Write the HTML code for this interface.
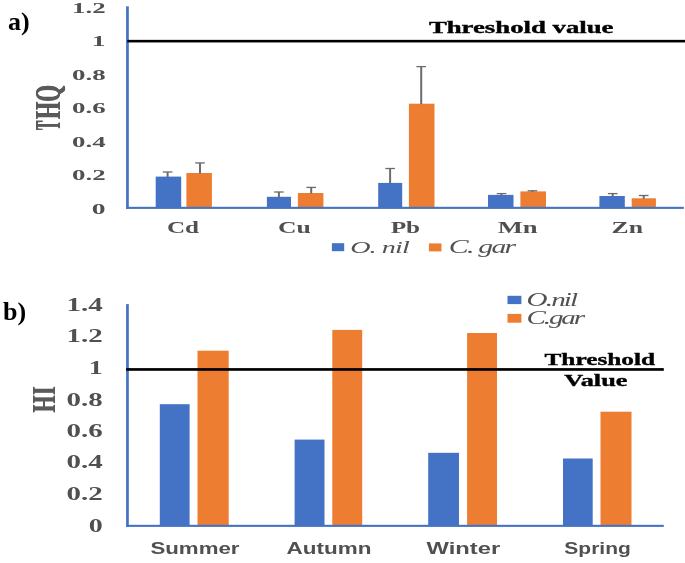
<!DOCTYPE html>
<html><head><meta charset="utf-8"><title>THQ and HI charts</title>
<style>
html,body{margin:0;padding:0;background:#fff;}
body{width:685px;height:563px;overflow:hidden;font-family:"Liberation Serif",serif;}
svg{display:block;}
</style></head>
<body>
<svg width="685" height="563" viewBox="0 0 685 563">
<rect x="0" y="0" width="685" height="563" fill="#ffffff"/>
<g style="filter:blur(0.55px)">
<rect x="155.70" y="176.60" width="25.50" height="31.25" fill="#4472C4"/>
<rect x="186.40" y="173.00" width="25.50" height="34.85" fill="#ED7D31"/>
<rect x="166.60" y="172.00" width="2.0" height="5.10" fill="#6c6c6c"/>
<rect x="162.80" y="171.35" width="9.60" height="1.3" fill="#6c6c6c"/>
<rect x="199.00" y="162.90" width="2.0" height="10.60" fill="#6c6c6c"/>
<rect x="195.20" y="162.25" width="9.60" height="1.3" fill="#6c6c6c"/>
<rect x="266.90" y="196.80" width="24.10" height="11.05" fill="#4472C4"/>
<rect x="297.90" y="193.00" width="25.50" height="14.85" fill="#ED7D31"/>
<rect x="277.90" y="192.00" width="2.0" height="5.30" fill="#6c6c6c"/>
<rect x="274.10" y="191.35" width="9.60" height="1.3" fill="#6c6c6c"/>
<rect x="310.20" y="187.40" width="2.0" height="6.10" fill="#6c6c6c"/>
<rect x="306.40" y="186.75" width="9.60" height="1.3" fill="#6c6c6c"/>
<rect x="378.20" y="182.90" width="24.00" height="24.95" fill="#4472C4"/>
<rect x="408.90" y="103.70" width="25.60" height="104.15" fill="#ED7D31"/>
<rect x="389.10" y="168.50" width="2.0" height="14.90" fill="#6c6c6c"/>
<rect x="385.30" y="167.85" width="9.60" height="1.3" fill="#6c6c6c"/>
<rect x="420.20" y="66.60" width="2.0" height="37.60" fill="#6c6c6c"/>
<rect x="416.40" y="65.95" width="9.60" height="1.3" fill="#6c6c6c"/>
<rect x="488.00" y="194.90" width="25.50" height="12.95" fill="#4472C4"/>
<rect x="520.40" y="191.40" width="25.60" height="16.45" fill="#ED7D31"/>
<rect x="500.50" y="193.60" width="2.0" height="1.80" fill="#6c6c6c"/>
<rect x="496.70" y="192.95" width="9.60" height="1.3" fill="#6c6c6c"/>
<rect x="531.40" y="190.80" width="2.0" height="1.10" fill="#6c6c6c"/>
<rect x="527.60" y="190.15" width="9.60" height="1.3" fill="#6c6c6c"/>
<rect x="599.40" y="196.00" width="25.40" height="11.85" fill="#4472C4"/>
<rect x="631.70" y="198.30" width="24.20" height="9.55" fill="#ED7D31"/>
<rect x="611.70" y="193.60" width="2.0" height="2.90" fill="#6c6c6c"/>
<rect x="607.90" y="192.95" width="9.60" height="1.3" fill="#6c6c6c"/>
<rect x="642.70" y="195.50" width="2.0" height="3.30" fill="#6c6c6c"/>
<rect x="638.90" y="194.85" width="9.60" height="1.3" fill="#6c6c6c"/>
<rect x="126.10" y="6.30" width="2.70" height="202.60" fill="#4472C4"/>
<rect x="126.10" y="206.80" width="557.70" height="2.10" fill="#4472C4"/>
<rect x="127.30" y="39.85" width="564.70" height="2.60" fill="#000"/>
<text x="72.00" y="12.60" font-family="Liberation Serif" font-size="15.3" font-weight="bold" font-style="normal" fill="#505050" text-anchor="start" textLength="33.60" lengthAdjust="spacingAndGlyphs">1.2</text>
<text x="91.80" y="45.60" font-family="Liberation Serif" font-size="15.3" font-weight="bold" font-style="normal" fill="#505050" text-anchor="start" textLength="13.80" lengthAdjust="spacingAndGlyphs">1</text>
<text x="72.00" y="79.50" font-family="Liberation Serif" font-size="15.3" font-weight="bold" font-style="normal" fill="#505050" text-anchor="start" textLength="33.60" lengthAdjust="spacingAndGlyphs">0.8</text>
<text x="72.00" y="112.90" font-family="Liberation Serif" font-size="15.3" font-weight="bold" font-style="normal" fill="#505050" text-anchor="start" textLength="33.60" lengthAdjust="spacingAndGlyphs">0.6</text>
<text x="72.00" y="146.90" font-family="Liberation Serif" font-size="15.3" font-weight="bold" font-style="normal" fill="#505050" text-anchor="start" textLength="33.60" lengthAdjust="spacingAndGlyphs">0.4</text>
<text x="72.00" y="180.20" font-family="Liberation Serif" font-size="15.3" font-weight="bold" font-style="normal" fill="#505050" text-anchor="start" textLength="33.60" lengthAdjust="spacingAndGlyphs">0.2</text>
<text x="91.80" y="213.50" font-family="Liberation Serif" font-size="15.3" font-weight="bold" font-style="normal" fill="#505050" text-anchor="start" textLength="13.80" lengthAdjust="spacingAndGlyphs">0</text>
<text x="166.90" y="232.80" font-family="Liberation Serif" font-size="17.2" font-weight="bold" font-style="normal" fill="#505050" text-anchor="start" textLength="32.10" lengthAdjust="spacingAndGlyphs">Cd</text>
<text x="278.10" y="232.80" font-family="Liberation Serif" font-size="17.2" font-weight="bold" font-style="normal" fill="#505050" text-anchor="start" textLength="32.80" lengthAdjust="spacingAndGlyphs">Cu</text>
<text x="390.70" y="232.80" font-family="Liberation Serif" font-size="17.2" font-weight="bold" font-style="normal" fill="#505050" text-anchor="start" textLength="29.50" lengthAdjust="spacingAndGlyphs">Pb</text>
<text x="497.70" y="232.80" font-family="Liberation Serif" font-size="17.2" font-weight="bold" font-style="normal" fill="#505050" text-anchor="start" textLength="39.90" lengthAdjust="spacingAndGlyphs">Mn</text>
<text x="611.60" y="232.80" font-family="Liberation Serif" font-size="17.2" font-weight="bold" font-style="normal" fill="#505050" text-anchor="start" textLength="31.40" lengthAdjust="spacingAndGlyphs">Zn</text>
<rect x="331.90" y="243.20" width="12.30" height="8.00" fill="#4472C4"/>
<text transform="translate(350.20,252.50) scale(1.6,1)" letter-spacing="-0.568" font-family="Liberation Serif" font-size="17.6" font-weight="normal" font-style="italic" fill="#525252">O. nil</text>
<rect x="428.90" y="243.40" width="12.60" height="8.00" fill="#ED7D31"/>
<text transform="translate(448.80,252.80) scale(1.6,1)" letter-spacing="-1.084" font-family="Liberation Serif" font-size="18.6" font-weight="normal" font-style="italic" fill="#525252">C. gar</text>
<text x="428.90" y="33.30" font-family="Liberation Serif" font-size="16" font-weight="bold" font-style="normal" fill="#000" text-anchor="start" textLength="184.60" lengthAdjust="spacingAndGlyphs" stroke="#000" stroke-width="0.35">Threshold value</text>
<text x="7.90" y="29.70" font-family="Liberation Serif" font-size="26" font-weight="bold" font-style="normal" fill="#000" text-anchor="start">a)</text>
<text transform="translate(60.0,129.52) scale(1.58,0.62) rotate(-90)" font-family="Liberation Serif" font-weight="bold" font-size="22" fill="#5a5a5a">T</text>
<text transform="translate(60.0,129.90) scale(1.58,0.62) rotate(-90)" font-family="Liberation Serif" font-weight="bold" font-size="22" fill="#5a5a5a">T</text>
<text transform="translate(60.0,130.28) scale(1.58,0.62) rotate(-90)" font-family="Liberation Serif" font-weight="bold" font-size="22" fill="#5a5a5a">T</text>
<text transform="translate(60.0,118.62) scale(1.58,1.0) rotate(-90)" font-family="Liberation Serif" font-weight="bold" font-size="22" fill="#5a5a5a">H</text>
<text transform="translate(60.0,119.00) scale(1.58,1.0) rotate(-90)" font-family="Liberation Serif" font-weight="bold" font-size="22" fill="#5a5a5a">H</text>
<text transform="translate(60.0,119.38) scale(1.58,1.0) rotate(-90)" font-family="Liberation Serif" font-weight="bold" font-size="22" fill="#5a5a5a">H</text>
<text transform="translate(60.0,101.22) scale(1.58,0.96) rotate(-90)" font-family="Liberation Serif" font-weight="bold" font-size="22" fill="#5a5a5a">Q</text>
<text transform="translate(60.0,101.60) scale(1.58,0.96) rotate(-90)" font-family="Liberation Serif" font-weight="bold" font-size="22" fill="#5a5a5a">Q</text>
<text transform="translate(60.0,101.98) scale(1.58,0.96) rotate(-90)" font-family="Liberation Serif" font-weight="bold" font-size="22" fill="#5a5a5a">Q</text>
<rect x="159.80" y="404.20" width="29.80" height="121.65" fill="#4472C4"/>
<rect x="197.50" y="350.70" width="31.20" height="175.15" fill="#ED7D31"/>
<rect x="294.60" y="439.60" width="29.90" height="86.25" fill="#4472C4"/>
<rect x="332.30" y="329.90" width="29.90" height="195.95" fill="#ED7D31"/>
<rect x="428.20" y="452.80" width="30.80" height="73.05" fill="#4472C4"/>
<rect x="467.10" y="333.00" width="29.90" height="192.85" fill="#ED7D31"/>
<rect x="563.00" y="458.50" width="29.70" height="67.35" fill="#4472C4"/>
<rect x="600.50" y="411.70" width="31.00" height="114.15" fill="#ED7D31"/>
<rect x="126.10" y="304.10" width="2.70" height="222.80" fill="#4472C4"/>
<rect x="126.10" y="524.80" width="537.70" height="2.10" fill="#4472C4"/>
<rect x="126.10" y="368.10" width="537.70" height="2.70" fill="#000"/>
<text x="66.60" y="310.80" font-family="Liberation Serif" font-size="18" font-weight="bold" font-style="normal" fill="#505050" text-anchor="start" textLength="36.20" lengthAdjust="spacingAndGlyphs">1.4</text>
<text x="66.60" y="342.20" font-family="Liberation Serif" font-size="18" font-weight="bold" font-style="normal" fill="#505050" text-anchor="start" textLength="36.20" lengthAdjust="spacingAndGlyphs">1.2</text>
<text x="88.80" y="374.40" font-family="Liberation Serif" font-size="18" font-weight="bold" font-style="normal" fill="#505050" text-anchor="start" textLength="14.00" lengthAdjust="spacingAndGlyphs">1</text>
<text x="66.60" y="405.50" font-family="Liberation Serif" font-size="18" font-weight="bold" font-style="normal" fill="#505050" text-anchor="start" textLength="36.20" lengthAdjust="spacingAndGlyphs">0.8</text>
<text x="66.60" y="437.10" font-family="Liberation Serif" font-size="18" font-weight="bold" font-style="normal" fill="#505050" text-anchor="start" textLength="36.20" lengthAdjust="spacingAndGlyphs">0.6</text>
<text x="66.60" y="468.20" font-family="Liberation Serif" font-size="18" font-weight="bold" font-style="normal" fill="#505050" text-anchor="start" textLength="36.20" lengthAdjust="spacingAndGlyphs">0.4</text>
<text x="66.60" y="500.40" font-family="Liberation Serif" font-size="18" font-weight="bold" font-style="normal" fill="#505050" text-anchor="start" textLength="36.20" lengthAdjust="spacingAndGlyphs">0.2</text>
<text x="88.80" y="532.30" font-family="Liberation Serif" font-size="18" font-weight="bold" font-style="normal" fill="#505050" text-anchor="start" textLength="14.00" lengthAdjust="spacingAndGlyphs">0</text>
<text x="150.40" y="554.40" font-family="Liberation Sans" font-size="15.9" font-weight="bold" font-style="normal" fill="#505050" text-anchor="start" textLength="89.10" lengthAdjust="spacingAndGlyphs">Summer</text>
<text x="286.60" y="554.40" font-family="Liberation Sans" font-size="15.9" font-weight="bold" font-style="normal" fill="#505050" text-anchor="start" textLength="84.90" lengthAdjust="spacingAndGlyphs">Autumn</text>
<text x="426.60" y="554.40" font-family="Liberation Sans" font-size="15.9" font-weight="bold" font-style="normal" fill="#505050" text-anchor="start" textLength="73.60" lengthAdjust="spacingAndGlyphs">Winter</text>
<text x="564.30" y="554.40" font-family="Liberation Sans" font-size="15.9" font-weight="bold" font-style="normal" fill="#505050" text-anchor="start" textLength="66.50" lengthAdjust="spacingAndGlyphs">Spring</text>
<rect x="507.50" y="295.80" width="13.90" height="8.30" fill="#4472C4"/>
<rect x="507.50" y="313.90" width="13.90" height="8.80" fill="#ED7D31"/>
<text transform="translate(526.60,305.90) scale(1.6,1)" letter-spacing="-1.164" font-family="Liberation Serif" font-size="18.2" font-weight="normal" font-style="italic" fill="#525252">O.nil</text>
<text transform="translate(526.60,323.80) scale(1.6,1)" letter-spacing="-1.368" font-family="Liberation Serif" font-size="18.2" font-weight="normal" font-style="italic" fill="#525252">C.gar</text>
<text x="544.50" y="364.90" font-family="Liberation Serif" font-size="16" font-weight="bold" font-style="normal" fill="#000" text-anchor="start" textLength="110.60" lengthAdjust="spacingAndGlyphs" stroke="#000" stroke-width="0.35">Threshold</text>
<text x="564.20" y="385.80" font-family="Liberation Serif" font-size="16.3" font-weight="bold" font-style="normal" fill="#000" text-anchor="start" textLength="63.20" lengthAdjust="spacingAndGlyphs" stroke="#000" stroke-width="0.35">Value</text>
<text x="3.10" y="320.10" font-family="Liberation Serif" font-size="26" font-weight="bold" font-style="normal" fill="#000" text-anchor="start">b)</text>
<text transform="translate(54.8,411.92) scale(1.5,0.98) rotate(-90)" font-family="Liberation Serif" font-weight="bold" font-size="22" fill="#5a5a5a">H</text>
<text transform="translate(54.8,412.30) scale(1.5,0.98) rotate(-90)" font-family="Liberation Serif" font-weight="bold" font-size="22" fill="#5a5a5a">H</text>
<text transform="translate(54.8,412.68) scale(1.5,0.98) rotate(-90)" font-family="Liberation Serif" font-weight="bold" font-size="22" fill="#5a5a5a">H</text>
<text transform="translate(54.8,394.42) scale(1.5,0.98) rotate(-90)" font-family="Liberation Serif" font-weight="bold" font-size="22" fill="#5a5a5a">I</text>
<text transform="translate(54.8,394.80) scale(1.5,0.98) rotate(-90)" font-family="Liberation Serif" font-weight="bold" font-size="22" fill="#5a5a5a">I</text>
<text transform="translate(54.8,395.18) scale(1.5,0.98) rotate(-90)" font-family="Liberation Serif" font-weight="bold" font-size="22" fill="#5a5a5a">I</text>
</g>
</svg>
</body></html>
